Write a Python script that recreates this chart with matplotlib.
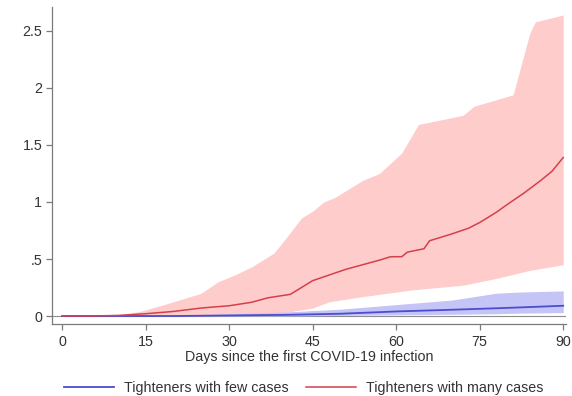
import matplotlib
matplotlib.use("Agg")
import matplotlib.pyplot as plt
import numpy as np

plt.rcParams['font.family'] = ['Liberation Sans', 'DejaVu Sans']

# Tighteners with many cases (red)
red_mean_days = [0, 5, 10, 15, 20, 25, 30, 34, 37, 41, 43, 45, 48, 51, 54, 57, 59, 61, 62, 65, 66, 70, 73, 75, 78, 80, 83, 86, 88, 90]
red_mean = [0, 0.0, 0.005, 0.02, 0.04, 0.07, 0.09, 0.12, 0.16, 0.19, 0.25, 0.31, 0.36, 0.41, 0.45, 0.49, 0.52, 0.52, 0.56, 0.59, 0.66, 0.72, 0.77, 0.82, 0.91, 0.98, 1.08, 1.19, 1.27, 1.39]
red_hi_days = [0, 5, 10, 14, 19, 25, 28, 31, 34, 38, 40, 43, 45, 47, 49, 54, 57, 61, 64, 68, 72, 74, 81, 84, 85, 90]
red_hi = [0, 0.0, 0.01, 0.04, 0.11, 0.20, 0.30, 0.36, 0.43, 0.55, 0.67, 0.86, 0.92, 1.00, 1.04, 1.19, 1.25, 1.43, 1.68, 1.72, 1.76, 1.84, 1.94, 2.48, 2.58, 2.64]
red_lo_days = [0, 30, 35, 40, 45, 48, 54, 63, 72, 78, 84, 90]
red_lo = [0, 0.0, 0.01, 0.03, 0.07, 0.125, 0.17, 0.23, 0.27, 0.33, 0.40, 0.45]

# Tighteners with few cases (blue)
blue_days = [0, 20, 30, 40, 50, 60, 70, 78, 82, 90]
blue_mean = [0, 0.0, 0.005, 0.01, 0.02, 0.04, 0.055, 0.068, 0.075, 0.09]
blue_hi = [0, 0.005, 0.02, 0.035, 0.06, 0.10, 0.14, 0.20, 0.21, 0.22]
blue_lo = [0, 0.0, 0.0, 0.0, 0.005, 0.01, 0.015, 0.02, 0.025, 0.03]

xticks = [0, 15, 30, 45, 60, 75, 90]
yticks = [0, 0.5, 1, 1.5, 2, 2.5]
ytick_labels = ["0", ".5", "1", "1.5", "2", "2.5"]

FS = 10.3

fig = plt.figure(figsize=(5.72, 3.96), dpi=100)
ax = fig.add_axes([52/572, 72/396, (566-52)/572, (324-7)/396])

grid_days = np.arange(0, 91)
rh = np.interp(grid_days, red_hi_days, red_hi)
rl = np.interp(grid_days, red_lo_days, red_lo)
ax.fill_between(grid_days, rl, rh, color="#ffcccc", linewidth=0, zorder=1)
ax.fill_between(blue_days, blue_lo, blue_hi, color="#c4c4f6", linewidth=0, zorder=2)
ax.axhline(0, color="#8c8c8c", lw=0.8, zorder=1.5)
ax.plot(blue_days, blue_mean, color="#4c4cd0", lw=1.3, zorder=3, label="Tighteners with few cases")
ax.plot(red_mean_days, red_mean, color="#d4404c", lw=1.1, zorder=4, label="Tighteners with many cases")

ax.set_xlim(-1.8, 90.5)
ax.set_ylim(-0.07, 2.71)
ax.set_xticks(xticks)
ax.set_yticks(yticks)
ax.set_yticklabels(ytick_labels)
for s in ["top", "right"]:
    ax.spines[s].set_visible(False)
for s in ["left", "bottom"]:
    ax.spines[s].set_color("#7a7a7a")
    ax.spines[s].set_linewidth(0.9)
ax.tick_params(axis="both", colors="#7a7a7a", labelcolor="#333333", length=4, width=0.9, labelsize=FS)
ax.tick_params(axis="x", pad=4)
ax.tick_params(axis="y", pad=3)
ax.set_xlabel("Days since the first COVID-19 infection", fontsize=FS, color="#333333", labelpad=1)

leg = fig.legend(loc="center left", bbox_to_anchor=(64/572, 8/396), ncol=2, frameon=False,
                 fontsize=FS, handlelength=3.5, columnspacing=1.2, handletextpad=0.7,
                 borderpad=0, borderaxespad=0)
for t in leg.get_texts():
    t.set_color("#333333")

fig.savefig("out.png", dpi=100)
